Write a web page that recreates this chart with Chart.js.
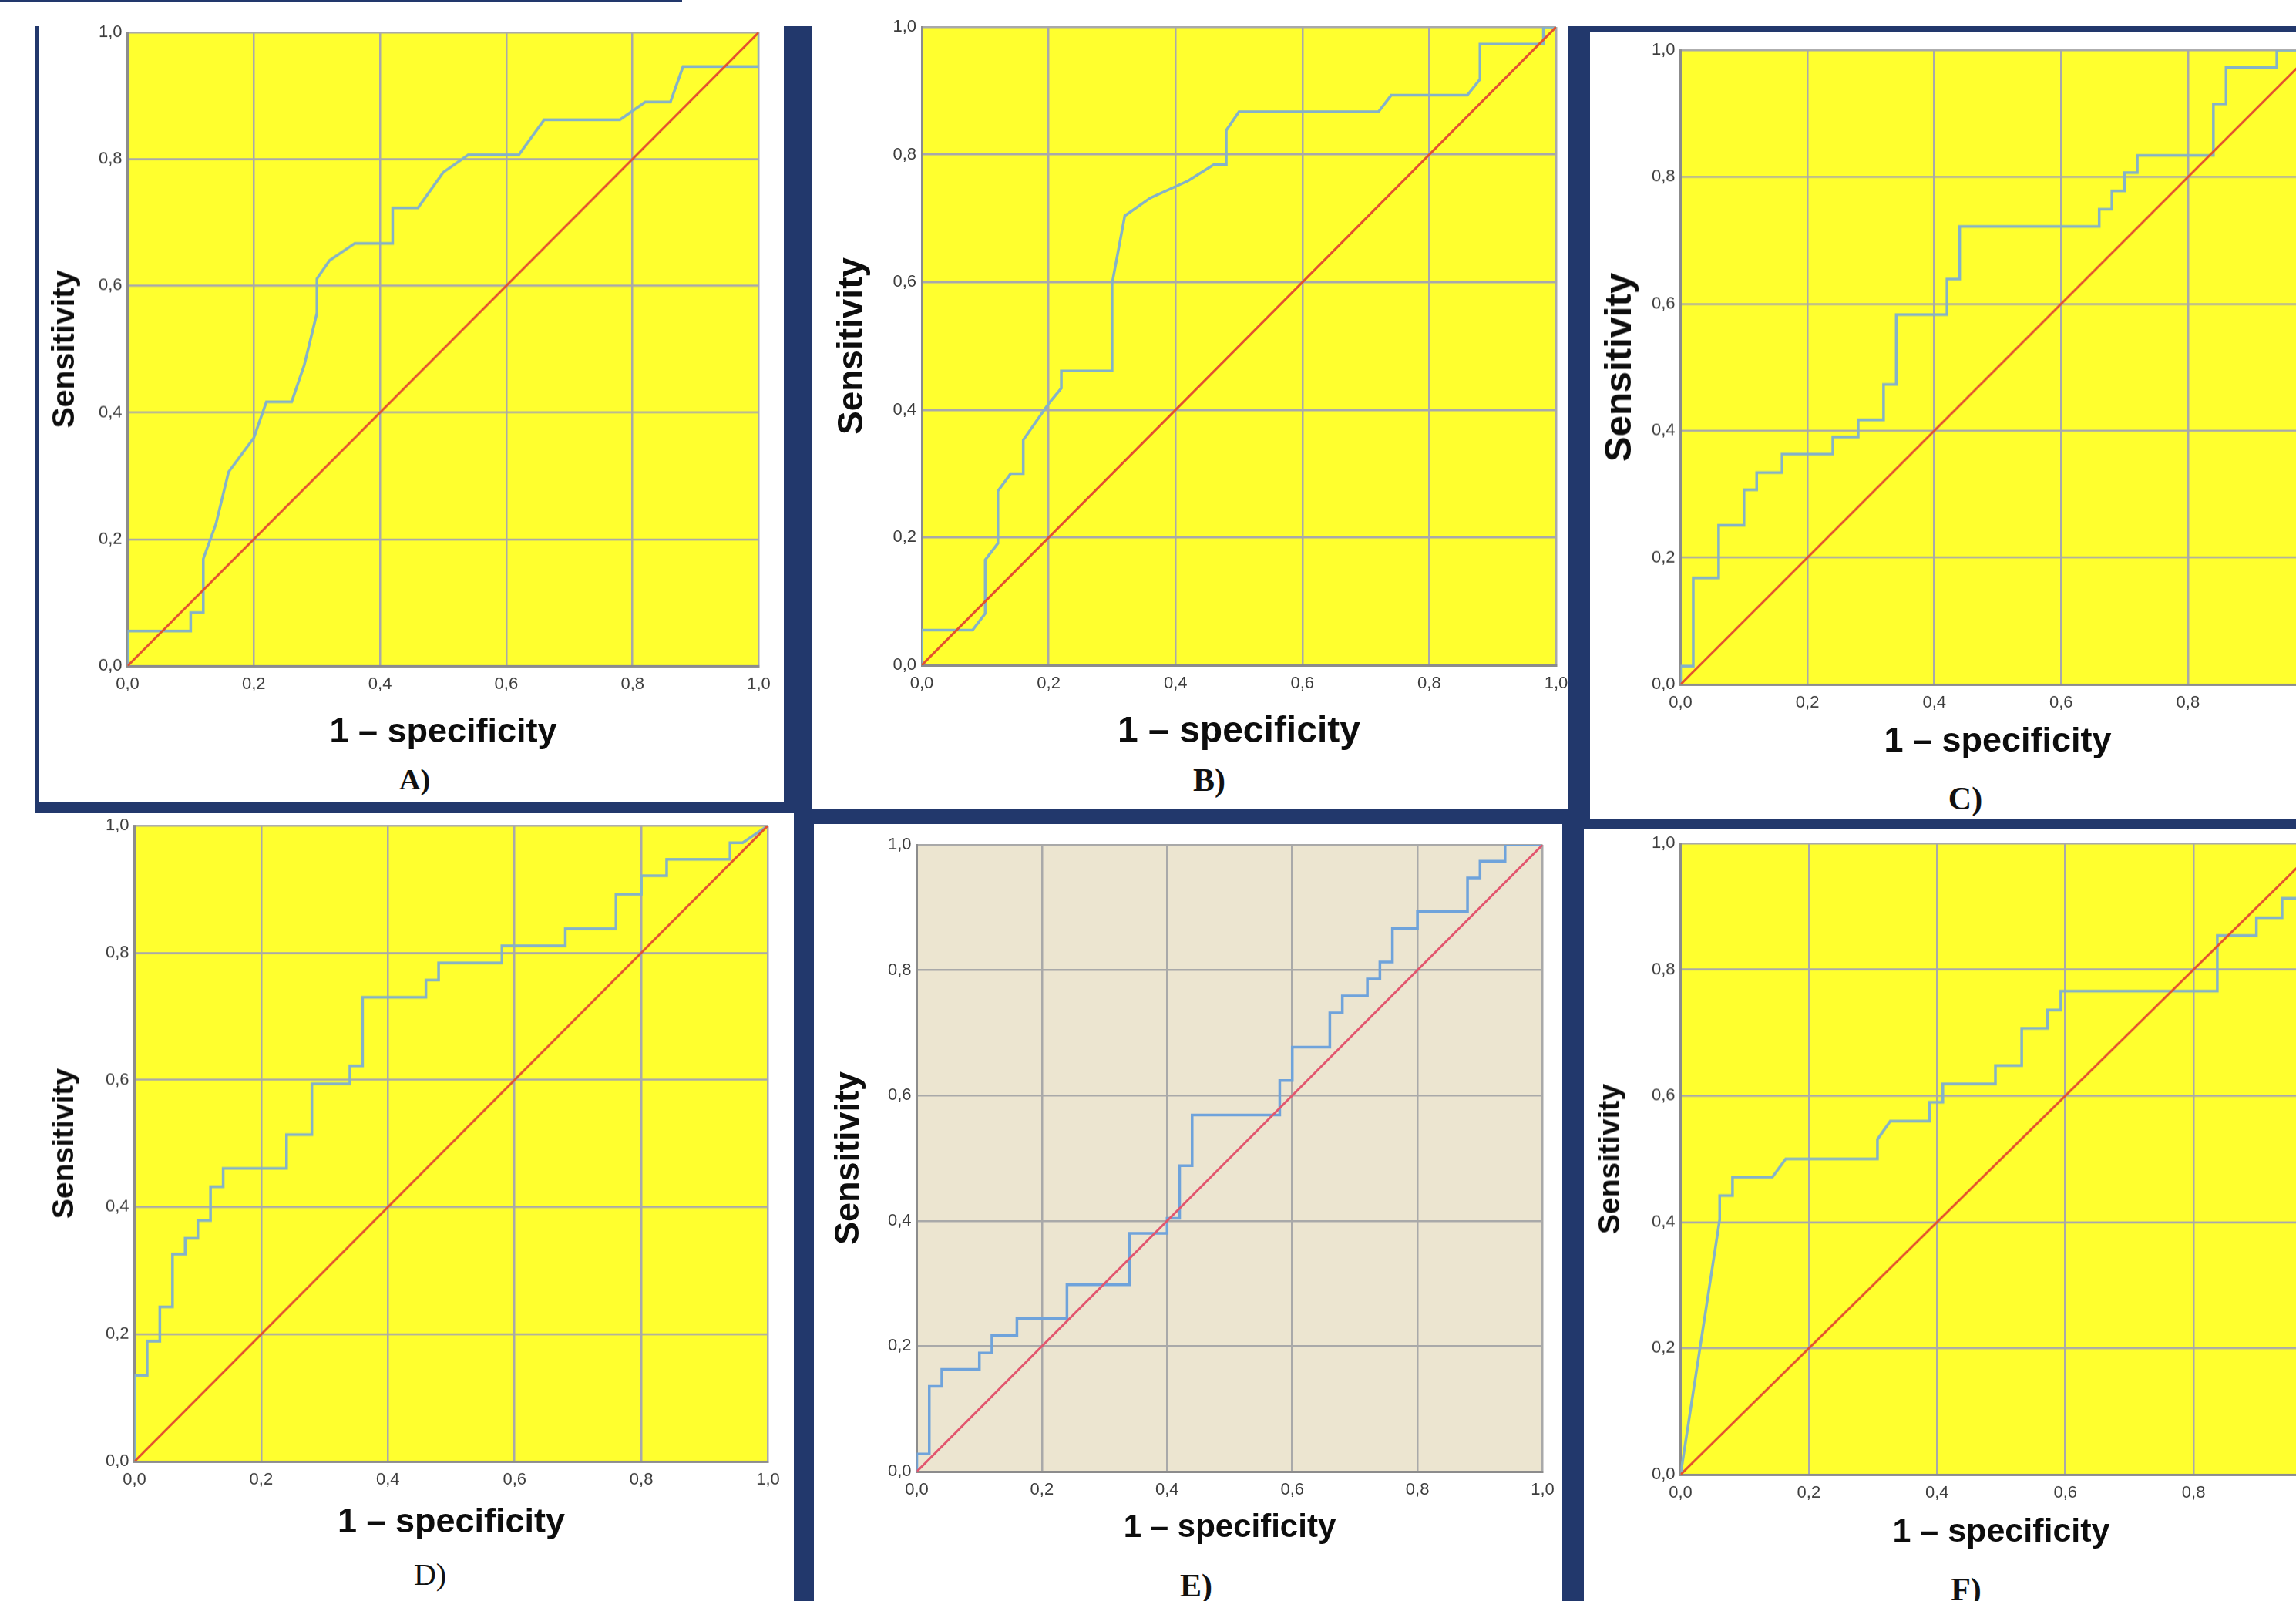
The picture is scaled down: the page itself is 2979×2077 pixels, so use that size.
<!DOCTYPE html>
<html>
<head>
<meta charset="utf-8">
<title>ROC curves A-F</title>
<script src="https://cdn.jsdelivr.net/npm/chart.js"></script>
<style>
    html, body { margin: 0; padding: 0; background: #fff; overflow: hidden; }
    #page { position: relative; width: 2979px; height: 2077px; overflow: hidden; background: #fff; }
    .band { position: absolute; background: #22386c; z-index: 2; }
    .box { position: absolute; z-index: 1; }
    .tag { position: absolute; z-index: 3; transform: translate(-50%, -50%); color: #111;
           font-family: "Liberation Serif", "Times New Roman", serif; white-space: nowrap; }
</style>
</head>
<body>
<div id="page"></div>
<script>
// axis ticks
const xTickLabels = ['0,0', '0,2', '0,4', '0,6', '0,8', '1,0'];
const yTickLabels = ['0,0', '0,2', '0,4', '0,6', '0,8', '1,0'];
const xTitle = '1 \u2013 specificity';
const yTitle = 'Sensitivity';

// reference diagonal
const diagFpr = [0, 1];
const diagTpr = [0, 1];

// A)
const aFpr = [0, 0, 0.10, 0.10, 0.12, 0.12, 0.14, 0.16, 0.20, 0.22, 0.26, 0.28, 0.30, 0.30, 0.32, 0.36, 0.42, 0.42, 0.46, 0.50, 0.54, 0.62, 0.66, 0.78, 0.82, 0.86, 0.88, 1.0, 1.0];
const aTpr = [0, 0.055, 0.055, 0.084, 0.084, 0.169, 0.224, 0.306, 0.36, 0.417, 0.417, 0.475, 0.557, 0.611, 0.64, 0.667, 0.667, 0.723, 0.723, 0.779, 0.807, 0.807, 0.862, 0.862, 0.89, 0.89, 0.946, 0.946, 1.0];

// B)
const bFpr = [0, 0, 0.08, 0.10, 0.10, 0.12, 0.12, 0.14, 0.16, 0.16, 0.20, 0.22, 0.22, 0.30, 0.30, 0.32, 0.36, 0.42, 0.46, 0.48, 0.48, 0.50, 0.72, 0.74, 0.86, 0.88, 0.88, 0.98, 0.98, 1.0];
const bTpr = [0, 0.055, 0.055, 0.081, 0.165, 0.191, 0.273, 0.30, 0.30, 0.353, 0.41, 0.434, 0.461, 0.461, 0.598, 0.704, 0.732, 0.759, 0.784, 0.784, 0.838, 0.867, 0.867, 0.893, 0.893, 0.918, 0.973, 0.973, 1.0, 1.0];

// C)
const cFpr = [0, 0, 0.02, 0.02, 0.06, 0.06, 0.10, 0.10, 0.12, 0.12, 0.16, 0.16, 0.24, 0.24, 0.28, 0.28, 0.32, 0.32, 0.34, 0.34, 0.42, 0.42, 0.44, 0.44, 0.66, 0.66, 0.68, 0.68, 0.70, 0.70, 0.72, 0.72, 0.84, 0.84, 0.86, 0.86, 0.94, 0.94, 1.0];
const cTpr = [0, 0.029, 0.029, 0.168, 0.168, 0.251, 0.251, 0.307, 0.307, 0.334, 0.334, 0.363, 0.363, 0.39, 0.39, 0.417, 0.417, 0.473, 0.473, 0.583, 0.583, 0.639, 0.639, 0.722, 0.722, 0.749, 0.749, 0.778, 0.778, 0.807, 0.807, 0.834, 0.834, 0.915, 0.915, 0.973, 0.973, 1.0, 1.0];

// D)
const dFpr = [0, 0, 0.02, 0.02, 0.04, 0.04, 0.06, 0.06, 0.08, 0.08, 0.10, 0.10, 0.12, 0.12, 0.14, 0.14, 0.24, 0.24, 0.28, 0.28, 0.34, 0.34, 0.36, 0.36, 0.46, 0.46, 0.48, 0.48, 0.58, 0.58, 0.68, 0.68, 0.76, 0.76, 0.80, 0.80, 0.84, 0.84, 0.94, 0.94, 0.96, 1.0];
const dTpr = [0, 0.135, 0.135, 0.189, 0.189, 0.243, 0.243, 0.326, 0.326, 0.351, 0.351, 0.379, 0.379, 0.432, 0.432, 0.461, 0.461, 0.514, 0.514, 0.594, 0.594, 0.622, 0.622, 0.73, 0.73, 0.757, 0.757, 0.784, 0.784, 0.811, 0.811, 0.838, 0.838, 0.892, 0.892, 0.921, 0.921, 0.947, 0.947, 0.973, 0.973, 1.0];

// E)
const eFpr = [0, 0, 0.02, 0.02, 0.04, 0.04, 0.10, 0.10, 0.12, 0.12, 0.16, 0.16, 0.24, 0.24, 0.34, 0.34, 0.40, 0.40, 0.42, 0.42, 0.44, 0.44, 0.58, 0.58, 0.60, 0.60, 0.66, 0.66, 0.68, 0.68, 0.72, 0.72, 0.74, 0.74, 0.76, 0.76, 0.80, 0.80, 0.88, 0.88, 0.90, 0.90, 0.94, 0.94, 1.0];
const eTpr = [0, 0.028, 0.028, 0.136, 0.136, 0.163, 0.163, 0.189, 0.189, 0.217, 0.217, 0.244, 0.244, 0.298, 0.298, 0.38, 0.38, 0.404, 0.404, 0.488, 0.488, 0.569, 0.569, 0.624, 0.624, 0.677, 0.677, 0.732, 0.732, 0.759, 0.759, 0.786, 0.786, 0.813, 0.813, 0.867, 0.867, 0.894, 0.894, 0.947, 0.947, 0.974, 0.974, 1.0, 1.0];

// F)
const fFpr = [0, 0.061, 0.061, 0.081, 0.081, 0.143, 0.164, 0.307, 0.307, 0.327, 0.388, 0.388, 0.409, 0.409, 0.491, 0.491, 0.532, 0.532, 0.572, 0.572, 0.593, 0.593, 0.837, 0.837, 0.898, 0.898, 0.938, 0.938, 1.0, 1.0];
const fTpr = [0, 0.404, 0.442, 0.442, 0.471, 0.471, 0.50, 0.50, 0.531, 0.56, 0.56, 0.59, 0.59, 0.619, 0.619, 0.648, 0.648, 0.707, 0.707, 0.736, 0.736, 0.766, 0.766, 0.854, 0.854, 0.882, 0.882, 0.913, 0.913, 1.0];

const YELLOW = '#ffff2e';
const BEIGE = '#ece5d0';
const CURVE = '#84b2c8';
const DIAG = '#e4502e';

// plot = [left, top, right, bottom] of the chart area on the page
const panels = [
    { fpr: aFpr, tpr: aTpr, bg: YELLOW, line: CURVE,     diag: DIAG,      plot: [165, 42, 984, 863],     sensX: 84,   sensSize: 41, specY: 950,  specSize: 45 },
    { fpr: bFpr, tpr: bTpr, bg: YELLOW, line: CURVE,     diag: DIAG,      plot: [1196, 35, 2019, 863],   sensX: 1106, sensSize: 46, specY: 950,  specSize: 48 },
    { fpr: cFpr, tpr: cTpr, bg: YELLOW, line: CURVE,     diag: DIAG,      plot: [2180, 65, 3003, 887],   sensX: 2102, sensSize: 49, specY: 962,  specSize: 45 },
    { fpr: dFpr, tpr: dTpr, bg: YELLOW, line: CURVE,     diag: DIAG,      plot: [174, 1071, 996, 1895],  sensX: 84,   sensSize: 39, specY: 1975, specSize: 45 },
    { fpr: eFpr, tpr: eTpr, bg: BEIGE,  line: '#6fa3db', diag: '#e2566e', plot: [1189, 1096, 2001, 1909], sensX: 1101, sensSize: 45, specY: 1982, specSize: 42 },
    { fpr: fFpr, tpr: fTpr, bg: YELLOW, line: CURVE,     diag: DIAG,      plot: [2180, 1094, 3012, 1912], sensX: 2090, sensSize: 39, specY: 1987, specSize: 43 }
];

const tags = [
    { text: 'A)', x: 538,  y: 1011, size: 38, weight: 'bold' },
    { text: 'B)', x: 1569, y: 1012, size: 42, weight: 'bold' },
    { text: 'C)', x: 2550, y: 1036, size: 42, weight: 'bold' },
    { text: 'D)', x: 558,  y: 2042, size: 40, weight: 'normal' },
    { text: 'E)', x: 1552, y: 2057, size: 42, weight: 'bold' },
    { text: 'F)', x: 2551, y: 2062, size: 42, weight: 'bold' }
];

// navy frame pieces [left, top, right, bottom]
const bands = [
    [0, 0, 885, 3],
    [46, 34, 51, 1055],
    [46, 1040, 1030, 1055],
    [1017, 34, 1054, 1050],
    [1030, 1050, 2034, 1069],
    [2034, 34, 2063, 1063],
    [2034, 34, 2979, 42],
    [2027, 1063, 2979, 1076],
    [1030, 1055, 1056, 2077],
    [2027, 1050, 2055, 2077]
];

const plotBg = {
    id: 'plotBg',
    beforeDraw(chart, args, opts) {
        const { ctx, chartArea: a } = chart;
        ctx.save();
        ctx.fillStyle = opts.color;
        ctx.fillRect(a.left, a.top, a.right - a.left, a.bottom - a.top);
        ctx.restore();
    }
};

function toPoints(xs, ys) {
    return xs.map((x, i) => ({ x: x, y: ys[i] }));
}

function buildPanel(page, p) {
    const [L, T, R, B] = p.plot;
    const pad = 30;
    const left = p.sensX - p.sensSize / 2 - 12;
    const top = T - pad;
    const right = R + pad;
    const bottom = p.specY + p.specSize / 2 + 12;

    const box = document.createElement('div');
    box.className = 'box';
    box.style.left = left + 'px';
    box.style.top = top + 'px';
    box.style.width = (right - left) + 'px';
    box.style.height = (bottom - top) + 'px';
    const canvas = document.createElement('canvas');
    box.appendChild(canvas);
    page.appendChild(box);

    const tickFont = { family: '"Liberation Sans", Arial, sans-serif', size: 22 };
    const gridOpts = { color: '#a9a9a9', lineWidth: 2.5, drawTicks: false };

    new Chart(canvas, {
        type: 'scatter',
        data: {
            datasets: [
                {
                    data: toPoints(diagFpr, diagTpr),
                    showLine: true,
                    borderColor: p.diag,
                    borderWidth: 3,
                    pointRadius: 0
                },
                {
                    data: toPoints(p.fpr, p.tpr),
                    showLine: true,
                    borderColor: p.line,
                    borderWidth: 3.5,
                    pointRadius: 0,
                    tension: 0
                }
            ]
        },
        options: {
            responsive: true,
            maintainAspectRatio: false,
            animation: false,
            layout: { padding: { left: 0, top: pad, right: pad, bottom: 0 } },
            plugins: {
                legend: { display: false },
                tooltip: { enabled: false },
                plotBg: { color: p.bg }
            },
            scales: {
                x: {
                    type: 'linear', min: 0, max: 1,
                    afterFit: s => { s.height = bottom - B; },
                    ticks: { stepSize: 0.2, padding: 11, color: '#3c3c3c', font: tickFont,
                             maxRotation: 0, autoSkip: false, callback: (v, i) => xTickLabels[i] },
                    grid: gridOpts,
                    border: { display: true, color: '#8c8c8c', width: 3 },
                    title: {
                        display: true, text: xTitle, color: '#0d0d0d',
                        font: { family: '"Liberation Sans", Arial, sans-serif', size: p.specSize, weight: 'bold', lineHeight: 1 },
                        padding: { top: 0, bottom: 12 }
                    }
                },
                y: {
                    type: 'linear', min: 0, max: 1,
                    afterFit: s => { s.width = L - left; },
                    ticks: { stepSize: 0.2, padding: 7, color: '#3c3c3c', font: tickFont,
                             autoSkip: false, callback: (v, i) => yTickLabels[i] },
                    grid: gridOpts,
                    border: { display: true, color: '#8c8c8c', width: 3 },
                    title: {
                        display: true, text: yTitle, color: '#0d0d0d',
                        font: { family: '"Liberation Sans", Arial, sans-serif', size: p.sensSize, weight: 'bold', lineHeight: 1 },
                        padding: { top: 12, bottom: 0 }
                    }
                }
            }
        },
        plugins: [plotBg]
    });
}

document.addEventListener('DOMContentLoaded', () => {
    const page = document.getElementById('page');

    panels.forEach(p => buildPanel(page, p));

    bands.forEach(b => {
        const el = document.createElement('div');
        el.className = 'band';
        el.style.left = b[0] + 'px';
        el.style.top = b[1] + 'px';
        el.style.width = (b[2] - b[0]) + 'px';
        el.style.height = (b[3] - b[1]) + 'px';
        page.appendChild(el);
    });

    tags.forEach(t => {
        const el = document.createElement('div');
        el.className = 'tag';
        el.textContent = t.text;
        el.style.left = t.x + 'px';
        el.style.top = t.y + 'px';
        el.style.fontSize = t.size + 'px';
        el.style.fontWeight = t.weight;
        page.appendChild(el);
    });
});
</script>
</body>
</html>
